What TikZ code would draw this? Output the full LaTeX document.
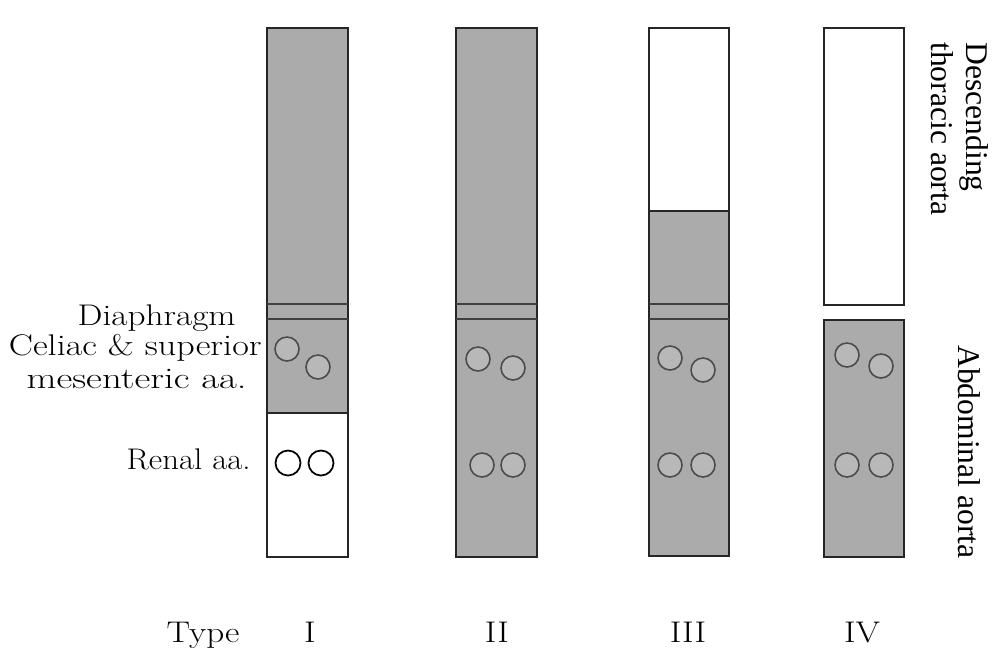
\documentclass[tikz,border=0pt]{standalone}
\usepackage{fontspec}
\newfontfamily\timesf{Liberation Serif}
\newcommand\wideT[2][1.18]{\scalebox{#1}[1]{#2}}
\begin{document}
\begin{tikzpicture}[x=0.02cm,y=-0.02cm,
  shade/.style={fill=black!33},
  vessel/.style={draw=black!85,line width=1.3pt},
  diaph/.style={draw=black!75,line width=1pt},
  artery/.style={draw=black!70,line width=0.9pt,fill=black!28},
  renalw/.style={draw=black,line width=1pt,fill=white},
  lab/.style={font=\fontsize{17}{20}\selectfont,inner sep=0pt},
  rlab/.style={font=\timesf\fontsize{18}{20}\selectfont,inner sep=0pt},
]
\useasboundingbox (0,0) rectangle (997,656);
% Type I
\fill[shade] (267,28) rectangle (348,413);
\draw[vessel] (267,28) rectangle (348,557);
\draw[vessel] (267,413) -- (348,413);
\draw[diaph] (267,304) -- (348,304) (267,319) -- (348,319);
\draw[artery] (287,349) circle (12);
\draw[artery] (318,367) circle (12);
\draw[renalw] (288,463) circle (12.5);
\draw[renalw] (321,463) circle (12.5);
% Type II
\fill[shade] (456,28) rectangle (537,557);
\draw[vessel] (456,28) rectangle (537,557);
\draw[diaph] (456,304) -- (537,304) (456,319) -- (537,319);
\draw[artery] (478,359) circle (12);
\draw[artery] (513,368) circle (12);
\draw[artery] (482,465) circle (12);
\draw[artery] (513,465) circle (12);
% Type III
\fill[shade] (649,211) rectangle (729,556);
\draw[vessel] (649,28) rectangle (729,556);
\draw[vessel] (649,211) -- (729,211);
\draw[diaph] (649,304) -- (729,304) (649,319) -- (729,319);
\draw[artery] (670,358) circle (12);
\draw[artery] (703,370) circle (12);
\draw[artery] (670,465) circle (12);
\draw[artery] (703,465) circle (12);
% Type IV
\draw[vessel] (824,28) rectangle (904,305);
\fill[shade] (824,320) rectangle (904,557);
\draw[vessel] (824,320) rectangle (904,557);
\draw[artery] (847,355) circle (12);
\draw[artery] (881,366) circle (12);
\draw[artery] (847,465) circle (12);
\draw[artery] (881,465) circle (12);
% left labels
\node[lab,anchor=base east] (dia) at (236,325) {\wideT{Diaphragm}};
\node[lab,anchor=base east] (cel) at (262,355) {\wideT[1.21]{Celiac \& superior}};
\node[lab,anchor=base east] (mes) at (247,388) {\wideT[1.3]{mesenteric aa.}};
\node[lab,anchor=base east] (ren) at (251,469) {\wideT[1.1]{Renal aa.}};
% bottom labels
\node[lab,anchor=base] (type) at (203,642) {\wideT{Type}};
\node[lab,anchor=base] (t1) at (310,642) {\wideT{I}};
\node[lab,anchor=base] (t2) at (497,642) {\wideT{II}};
\node[lab,anchor=base] (t3) at (688,642) {\wideT{III}};
\node[lab,anchor=base] (t4) at (862,642) {\wideT{IV}};
% right labels
\node[rlab,rotate=-90,anchor=north west,align=left] (dta) at (989,42) {Descending\\thoracic aorta};
\node[rlab,rotate=-90,anchor=base] (abd) at (958,452) {Abdominal aorta};
\end{tikzpicture}
\end{document}
